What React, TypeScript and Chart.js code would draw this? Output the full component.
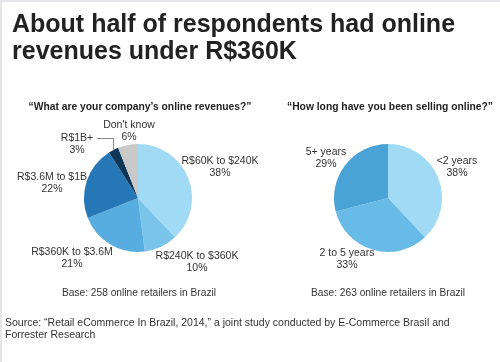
import React, { useEffect, useRef } from "react";
import { Chart, registerables } from "chart.js";

Chart.register(...registerables);

// ---- data ----
const revenueLabels = ["R$60K to $240K", "R$240K to $360K", "R$360K to $3.6M", "R$3.6M to $1B", "R$1B+", "Don't know"];
const revenueValues = [38, 10, 21, 22, 3, 6];
const durationLabels = ["<2 years", "2 to 5 years", "5+ years"];
const durationValues = [38, 33, 29];

const titleText = "About half of respondents had online revenues under R$360K";
const revenueQuestion = "\u201cWhat are your company\u2019s online revenues?\u201d";
const durationQuestion = "\u201cHow long have you been selling online?\u201d";
const revenueBase = "Base: 258 online retailers in Brazil";
const durationBase = "Base: 263 online retailers in Brazil";
const sourceText = "Source: \u201cRetail eCommerce In Brazil, 2014,\u201d a joint study conducted by E-Commerce Brasil and Forrester Research";

// ---- styles ----
const revenueColors = ["#a0daf5", "#7ac4ea", "#58ade0", "#2677b5", "#0f3656", "#c9c9c9"];
const durationColors = ["#a0daf5", "#68bbe6", "#4aa3d6"];
// label centre offsets (px) from the pie centre, and whether a leader line is drawn
const revenueLabelLayout = [
  { dx: 82, dy: -31 },
  { dx: 59, dy: 64 },
  { dx: -66, dy: 60 },
  { dx: -86, dy: -15 },
  { dx: -61, dy: -54, leader: true },
  { dx: -9, dy: -67 },
];
const durationLabelLayout = [
  { dx: 69, dy: -31 },
  { dx: -41, dy: 61 },
  { dx: -62, dy: -40 },
];

const FONT = '"Liberation Sans", Arial, Helvetica, sans-serif';

type LabelLayout = { dx: number; dy: number; leader?: boolean };

function makeLabelPlugin(labels: string[], values: number[], layout: LabelLayout[]) {
  return {
    id: "sliceLabels",
    afterDatasetsDraw(chart: any) {
      const ctx = chart.ctx as CanvasRenderingContext2D;
      const meta = chart.getDatasetMeta(0);
      ctx.save();
      ctx.font = `10.5px ${FONT}`;
      ctx.fillStyle = "#333333";
      ctx.textAlign = "center";
      ctx.textBaseline = "middle";
      const lh = 12.5;
      meta.data.forEach((arc: any, i: number) => {
        const p = arc.getProps(["x", "y", "startAngle", "endAngle", "outerRadius"], true);
        const l = layout[i];
        const cx = p.x + l.dx;
        const cy = p.y + l.dy;
        const y1 = cy - lh / 2;
        const y2 = cy + lh / 2;
        ctx.fillText(labels[i], cx, y1);
        ctx.fillText(`${values[i]}%`, cx, y2);
        if (l.leader) {
          const mid = (p.startAngle + p.endAngle) / 2;
          const ex = p.x + p.outerRadius * Math.cos(mid);
          const ey = p.y + p.outerRadius * Math.sin(mid);
          const w = ctx.measureText(labels[i]).width;
          ctx.strokeStyle = "#8a8a8a";
          ctx.lineWidth = 1;
          ctx.beginPath();
          ctx.moveTo(cx + w / 2 + 4, Math.round(y1) + 0.5);
          ctx.lineTo(Math.round(ex) + 0.5, Math.round(y1) + 0.5);
          ctx.lineTo(Math.round(ex) + 0.5, ey);
          ctx.stroke();
        }
      });
      ctx.restore();
    },
  };
}

function PieCanvas(props: {
  labels: string[];
  values: number[];
  colors: string[];
  layout: LabelLayout[];
  width: number;
  padLeft: number;
  padRight: number;
}) {
  const ref = useRef<HTMLCanvasElement | null>(null);
  useEffect(() => {
    if (!ref.current) return;
    const chart = new Chart(ref.current, {
      type: "pie",
      data: {
        labels: props.labels,
        datasets: [
          {
            data: props.values,
            backgroundColor: props.colors,
            borderWidth: 0,
          },
        ],
      },
      options: {
        animation: false,
        responsive: false,
        radius: 54,
        layout: { padding: { left: props.padLeft, top: 34, right: props.padRight, bottom: 0 } },
        plugins: { legend: { display: false }, tooltip: { enabled: false } },
      } as any,
      plugins: [makeLabelPlugin(props.labels, props.values, props.layout)],
    });
    return () => chart.destroy();
  }, []);
  return (
    <canvas
      ref={ref}
      width={props.width}
      height={362}
      style={{ width: props.width, height: 362, display: "block" }}
    />
  );
}

export default function App() {
  const abs = (s: React.CSSProperties): React.CSSProperties => ({ position: "absolute", ...s });
  return (
    <div
      style={{
        position: "fixed",
        left: 0,
        top: 0,
        width: 500,
        height: 362,
        background: "#ffffff",
        fontFamily: FONT,
        color: "#333333",
        overflow: "hidden",
      }}
    >
      <div style={abs({ left: 0, top: 0, width: 500, height: 2, background: "#e4e6e9" })} />
      <div style={abs({ left: 0, top: 0, width: 2, height: 362, background: "#e4e6e9" })} />
      <div style={abs({ left: 0, top: 0 })}>
        <PieCanvas
          labels={revenueLabels}
          values={revenueValues}
          colors={revenueColors}
          layout={revenueLabelLayout}
          width={300}
          padLeft={0}
          padRight={24}
        />
      </div>
      <div style={abs({ left: 220, top: 0 })}>
        <PieCanvas
          labels={durationLabels}
          values={durationValues}
          colors={durationColors}
          layout={durationLabelLayout}
          width={280}
          padLeft={56}
          padRight={0}
        />
      </div>
      <div
        style={abs({
          left: 12,
          top: 10,
          width: 480,
          fontSize: 25,
          lineHeight: "27px",
          fontWeight: "bold",
          color: "#222222",
        })}
      >
        {titleText}
      </div>
      <div
        style={abs({
          left: 15,
          top: 101,
          width: 250,
          textAlign: "center",
          fontSize: 10.3,
          lineHeight: "12px",
          fontWeight: "bold",
          color: "#222",
        })}
      >
        {revenueQuestion}
      </div>
      <div
        style={abs({
          left: 265,
          top: 101,
          width: 250,
          textAlign: "center",
          fontSize: 10.3,
          lineHeight: "12px",
          fontWeight: "bold",
          color: "#222",
        })}
      >
        {durationQuestion}
      </div>
      <div style={abs({ left: 14, top: 287, width: 250, textAlign: "center", fontSize: 10.2, lineHeight: "12px" })}>
        {revenueBase}
      </div>
      <div style={abs({ left: 263, top: 287, width: 250, textAlign: "center", fontSize: 10.2, lineHeight: "12px" })}>
        {durationBase}
      </div>
      <div style={abs({ left: 5, top: 316, width: 455, fontSize: 10.5, lineHeight: "12px" })}>{sourceText}</div>
    </div>
  );
}
